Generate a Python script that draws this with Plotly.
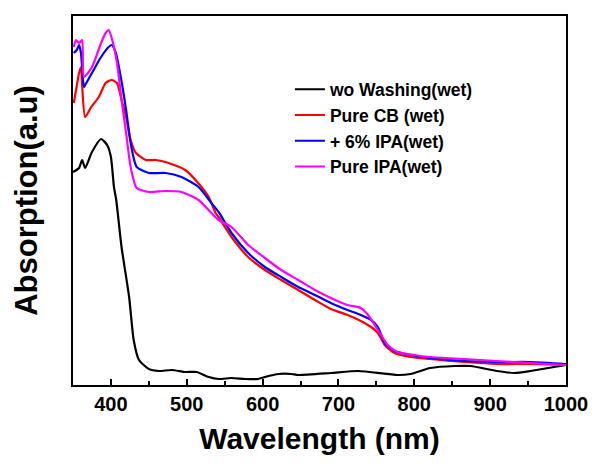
import plotly.graph_objects as go

# Wavelength (nm) and absorption (a.u.)
wl_black = [350, 358, 362, 366, 375, 387, 395, 400, 404, 407, 414, 424, 430, 437, 450, 463, 480, 498, 513, 529, 542, 559, 577, 594, 603, 621, 638, 647, 690, 726, 778, 795, 821, 853, 874, 909, 932, 953, 1000]
ab_black = [213, 217, 225, 217, 233, 246, 240, 228, 198, 185, 138, 88, 45, 25, 16, 14, 15, 13, 13, 8, 6, 7, 6, 6, 8, 11, 11, 10, 12, 14, 10, 11, 17, 19, 19, 14, 12, 14, 20]

wl_red = [351, 354, 358, 360.5, 362, 366, 374, 384, 393, 401, 408, 414, 420, 426, 433, 446, 459, 476, 498, 515, 529, 538, 542, 559, 581, 603, 624.5, 647, 669, 690, 712, 729.5, 743, 752, 761, 774, 795, 821, 866, 909, 953, 1000]
ab_red = [282, 295, 312, 318, 300, 268, 278, 288, 302, 305, 302, 285, 268, 245, 232, 225, 225, 222, 215, 202, 188, 172, 168, 148, 128, 115, 105, 95, 85, 76, 70, 64, 58, 52, 40, 32, 28, 26, 23, 21, 21, 20]

wl_blue = [351, 355, 358, 360.5, 364.4, 366, 375, 387, 397, 401, 406.5, 413, 420, 426, 434, 450, 472, 493, 515.5, 532.5, 542, 559, 581, 603, 624.5, 647, 669, 690, 712, 729.5, 743, 752, 761, 774, 795, 821, 866, 909, 953, 1000]
ab_blue = [332, 335, 340, 332, 298, 300, 312, 328, 338, 340, 332, 308, 275, 242, 218, 212, 212, 208, 198, 182, 173, 152, 132, 118, 108, 98, 90, 82, 75, 70, 65, 58, 42, 34, 30, 27, 24, 23, 23, 21]

wl_mag = [351, 354, 358, 362, 364.4, 375, 387, 393, 397, 401, 408, 414, 420, 426, 434, 450, 472, 493, 515.5, 532.5, 542, 559, 581, 603, 624.5, 647, 669, 690, 712, 729.5, 739, 752, 765, 778, 800, 821, 866, 909, 953, 1000]
ab_mag = [338, 345, 342, 345, 308, 318, 342, 352, 355, 347, 322, 285, 252, 218, 197, 193, 194, 193, 185, 172, 165, 158, 140, 127, 115, 105, 95, 87, 80, 77, 70, 55, 40, 33, 30, 28, 26, 24, 22, 20]

names = ["wo Washing(wet)", "Pure CB (wet)", "+ 6% IPA(wet)", "Pure IPA(wet)"]
colors = ["#000000", "#ff0000", "#0000ff", "#ff00ff"]
xs = [wl_black, wl_red, wl_blue, wl_mag]
ys = [ab_black, ab_red, ab_blue, ab_mag]

x_ticks = [400, 500, 600, 700, 800, 900, 1000]

FONT = "Liberation Sans, Arial, sans-serif"

fig = go.Figure()
for x, y, n, c in zip(xs, ys, names, colors):
    fig.add_trace(go.Scatter(x=x, y=y, name=n, mode="lines",
                             line=dict(color=c, width=2.2, shape="spline", smoothing=0.6)))

fig.update_layout(
    width=600, height=466,
    margin=dict(l=73, r=30, t=16, b=81),
    paper_bgcolor="white", plot_bgcolor="white",
    font=dict(family=FONT, color="black"),
    showlegend=True,
    legend=dict(x=0.44, y=0.85, xanchor="left", yanchor="top",
                bgcolor="rgba(0,0,0,0)",
                font=dict(family=FONT, size=17.5, color="black", weight="bold")),
)

fig.update_xaxes(
    range=[350, 1000], tickvals=x_ticks,
    showline=True, linecolor="black", linewidth=2, mirror=True,
    ticks="inside", ticklen=6, tickwidth=2, tickcolor="black",
    minor=dict(dtick=50, tick0=0, ticks="inside", ticklen=4, tickwidth=1.5, tickcolor="black"),
    showgrid=False, zeroline=False,
    tickfont=dict(family=FONT, size=20, color="black", weight="bold"),
    title=dict(text="Wavelength (nm)", standoff=14,
               font=dict(family=FONT, size=30, color="black", weight="bold")),
)
fig.update_yaxes(
    range=[0, 369],
    showline=True, linecolor="black", linewidth=2, mirror=True,
    ticks="", showticklabels=False, showgrid=False, zeroline=False,
    title=dict(text="Absorption(a.u)", standoff=24,
               font=dict(family=FONT, size=31, color="black", weight="bold")),
)

fig.write_html("out.html")
